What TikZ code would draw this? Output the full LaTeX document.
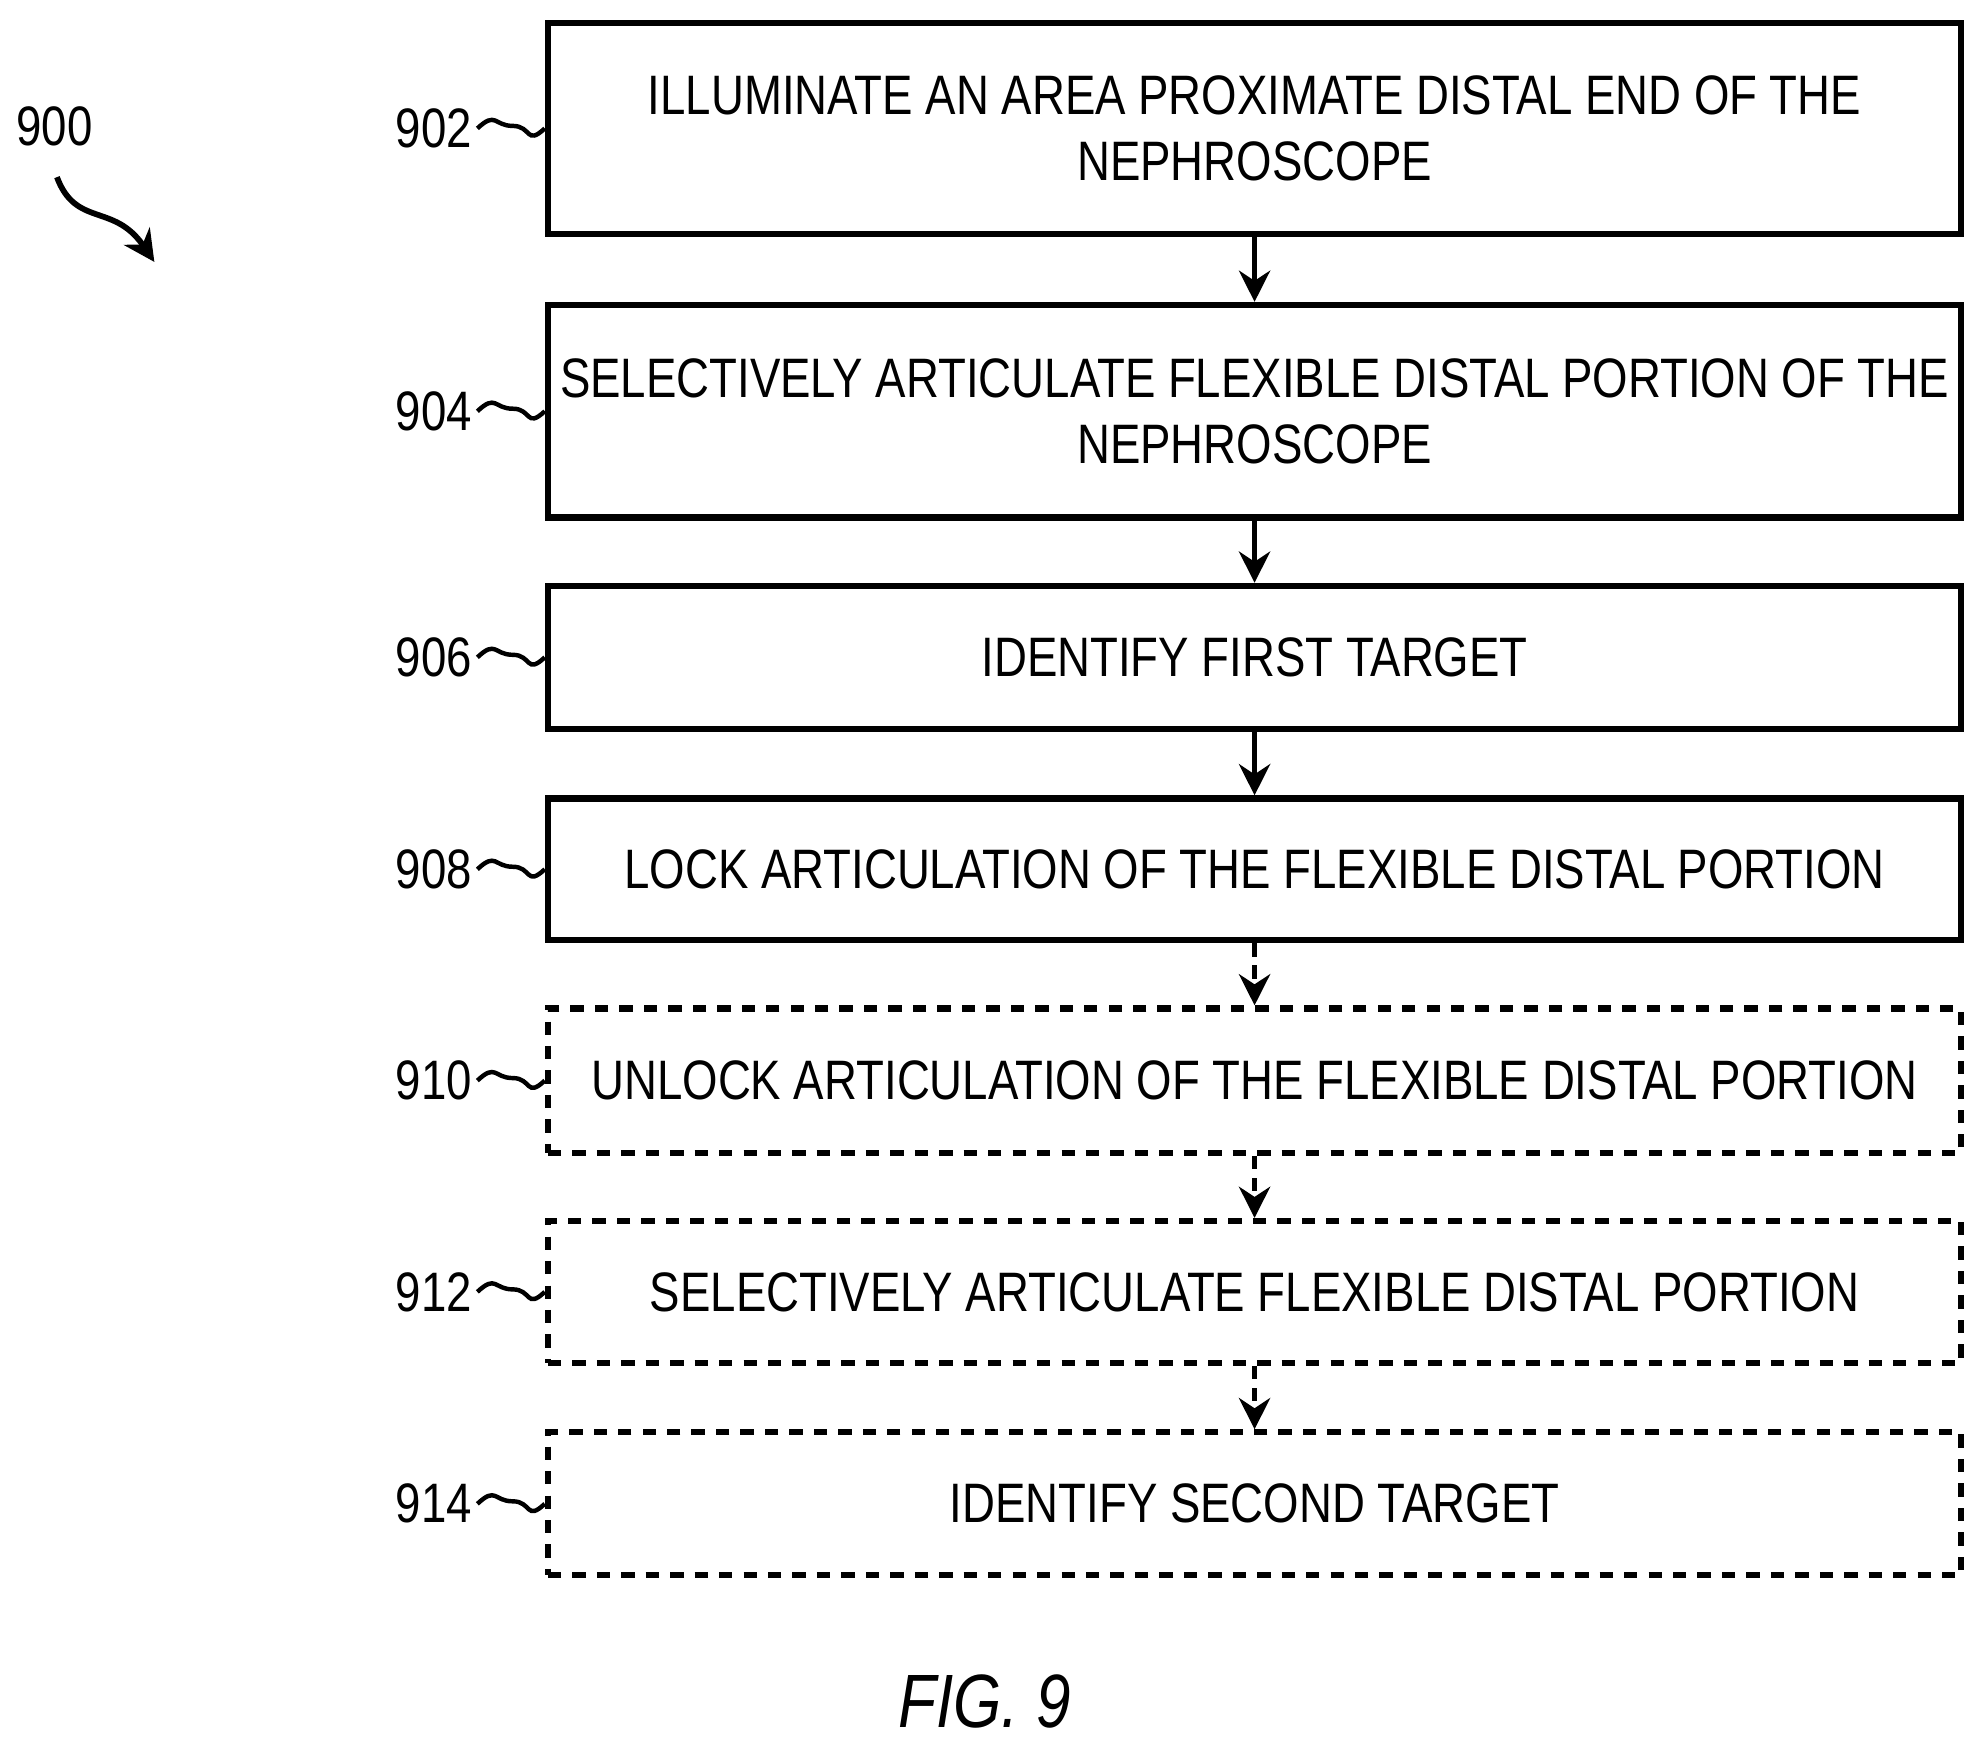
\documentclass[tikz,border=0pt]{standalone}
\usepackage{fontspec}
\setmainfont{Liberation Sans}[FakeStretch=0.82]
\usetikzlibrary{arrows.meta}
\tikzset{
  box/.style={draw, line width=1.4pt, minimum width=11.17cm, align=center, font=\fontsize{12.5}{15}\selectfont, inner sep=2pt},
  optbox/.style={box, dash pattern=on 3pt off 2.5pt},
  ref/.style={font=\fontsize{12.5}{15}\selectfont},
  flow/.style={-{Stealth[length=7pt,width=7pt]}, line width=1.3pt},
}
\begin{document}
\begin{tikzpicture}
\useasboundingbox (0,0) rectangle (15.68,-13.82);
\node[box, minimum height=1.67cm] (s902) at (9.915,-1.015) {ILLUMINATE AN AREA PROXIMATE DISTAL END OF THE\\NEPHROSCOPE};
\node[box, minimum height=1.68cm] (s904) at (9.915,-3.25) {SELECTIVELY ARTICULATE FLEXIBLE DISTAL PORTION OF THE\\NEPHROSCOPE};
\node[box, minimum height=1.13cm] (s906) at (9.915,-5.195) {IDENTIFY FIRST TARGET};
\node[box, minimum height=1.12cm] (s908) at (9.915,-6.87) {LOCK ARTICULATION OF THE FLEXIBLE DISTAL PORTION};
\node[optbox, minimum height=1.14cm] (s910) at (9.915,-8.54) {UNLOCK ARTICULATION OF THE FLEXIBLE DISTAL PORTION};
\node[optbox, minimum height=1.12cm] (s912) at (9.915,-10.21) {SELECTIVELY ARTICULATE FLEXIBLE DISTAL PORTION};
\node[optbox, minimum height=1.13cm] (s914) at (9.915,-11.885) {IDENTIFY SECOND TARGET};

% reference numerals
\foreach \n/\y in {902/-1.015,904/-3.25,906/-5.195,908/-6.87,910/-8.54,912/-10.21,914/-11.885}{
  \node[ref, inner sep=1pt] (r\n) at (3.43,\y) {\n};
  \draw[line width=1pt] (r\n.east) .. controls +(0.15,0.14) and +(-0.15,0) .. ++(0.28,0.02) .. controls +(0.15,0) and +(-0.15,-0.14) .. (s\n.west);
}

\draw[flow] (s902) -- (s904);
\draw[flow] (s904) -- (s906);
\draw[flow] (s906) -- (s908);
\draw[flow, dash pattern=on 3pt off 2pt] (s908) -- (s910);
\draw[flow, dash pattern=on 3pt off 2pt] (s910) -- (s912);
\draw[flow, dash pattern=on 3pt off 2pt] (s912) -- (s914);

\node[ref] (r900) at (0.43,-1.0) {900};
\coordinate (a900) at (1.22,-2.07);
\draw[flow] (0.45,-1.4) .. controls (0.6,-1.8) and (0.9,-1.6) .. (a900);

\node[font=\fontsize{17}{20}\selectfont\itshape] (fig) at (7.78,-13.45) {FIG. 9};
\end{tikzpicture}
\end{document}
